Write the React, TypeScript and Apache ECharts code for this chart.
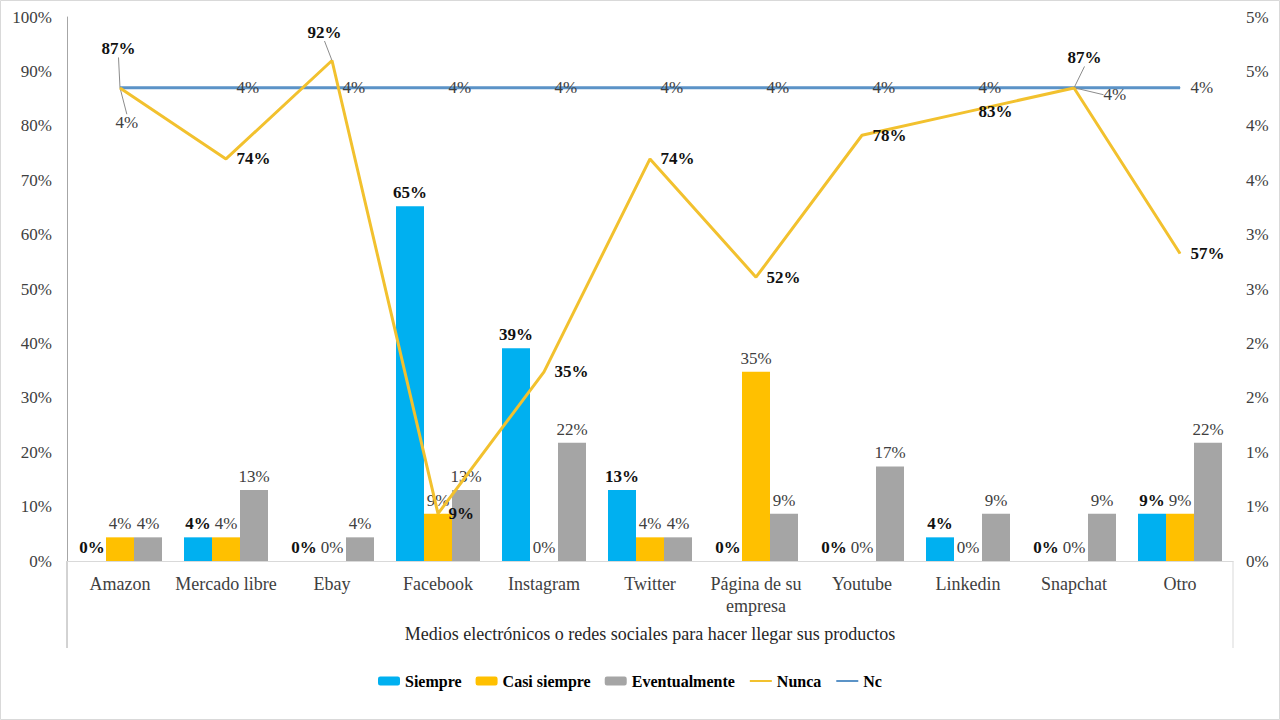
import React, { useEffect, useRef } from "react";
import * as echarts from "echarts";

const categories = [
  "Amazon",
  "Mercado libre",
  "Ebay",
  "Facebook",
  "Instagram",
  "Twitter",
  "Página de su\nempresa",
  "Youtube",
  "Linkedin",
  "Snapchat",
  "Otro",
];
const siempre = [0, 4.35, 0, 65.22, 39.13, 13.04, 0, 0, 4.35, 0, 8.7];
const casiSiempre = [4.35, 4.35, 0, 8.7, 0, 4.35, 34.78, 0, 0, 0, 8.7];
const eventualmente = [4.35, 13.04, 4.35, 13.04, 21.74, 4.35, 8.7, 17.39, 8.7, 8.7, 21.74];
const nunca = [86.96, 73.91, 92.0, 8.7, 34.78, 73.91, 52.17, 78.26, 82.61, 86.96, 56.52];
const nc = [4.35, 4.35, 4.35, 4.35, 4.35, 4.35, 4.35, 4.35, 4.35, 4.35, 4.35];
const axisTitle = "Medios electrónicos o redes sociales para hacer llegar sus productos";

const FONT = "Times New Roman, Liberation Serif, DejaVu Serif, serif";

// label displacements (styling only)
const nuncaShift: Record<number, [number, number]> = {
  0: [-29, -39],
  2: [-35, -28],
  9: [-17, -30],
};
const ncShift: Record<number, [number, number]> = {
  0: [-15, 35],
  9: [19, 7],
};

export default function App() {
  const ref = useRef<HTMLDivElement>(null);
  useEffect(() => {
    if (!ref.current) return;
    const chart = echarts.init(ref.current, undefined, { renderer: "svg" });
    const pct = (p: any) => Math.round(p.value) + "%";
    const barLabel = (bold: boolean) => ({
      show: true,
      position: "top",
      distance: 5,
      fontFamily: FONT,
      fontSize: 17,
      fontWeight: bold ? "bold" : "normal",
      color: bold ? "#111" : "#404040",
      formatter: pct,
    });
    const mkLineData = (vals: number[], shift: Record<number, [number, number]>) =>
      vals.map((v, i) =>
        shift[i]
          ? { value: v, labelLine: { show: true, lineStyle: { color: "#8c8c8c", width: 1 } } }
          : { value: v }
      );
    chart.setOption({
      animation: false,
      textStyle: { fontFamily: FONT },
      grid: { left: 67, right: 47, top: 17, bottom: 159, containLabel: false },
      legend: {
        top: 668,
        left: 373,
        itemWidth: 22,
        itemHeight: 9,
        itemGap: 14,
        textStyle: { fontFamily: FONT, fontSize: 16, fontWeight: "bold", color: "#000" },
        data: [
          { name: "Siempre" },
          { name: "Casi siempre" },
          { name: "Eventualmente" },
          { name: "Nunca", itemStyle: { opacity: 0 } },
          { name: "Nc", itemStyle: { opacity: 0 } },
        ],
      },
      xAxis: {
        type: "category",
        data: categories,
        axisLine: { lineStyle: { color: "#d9d9d9", width: 1 } },
        axisTick: { show: false },
        axisLabel: {
          interval: 0,
          fontFamily: FONT,
          fontSize: 18,
          color: "#404040",
          margin: 12,
          lineHeight: 22,
        },
        name: axisTitle,
        nameLocation: "middle",
        nameGap: 64,
        nameTextStyle: { fontFamily: FONT, fontSize: 18, color: "#262626" },
      },
      yAxis: [
        {
          type: "value",
          min: 0,
          max: 100,
          interval: 10,
          axisLine: { show: true, lineStyle: { color: "#a6a6a6" } },
          axisTick: { show: false },
          splitLine: { show: false },
          axisLabel: {
            formatter: "{value}%",
            fontFamily: FONT,
            fontSize: 17,
            color: "#404040",
            margin: 15,
          },
        },
        {
          type: "value",
          min: 0,
          max: 5,
          interval: 0.5,
          axisLine: { show: false },
          axisTick: { show: false },
          splitLine: { show: false },
          axisLabel: {
            formatter: (v: number) => Math.round(v) + "%",
            fontFamily: FONT,
            fontSize: 17,
            color: "#404040",
            margin: 13,
          },
        },
      ],
      series: [
        {
          name: "Siempre",
          type: "bar",
          data: siempre,
          barWidth: 28,
          barGap: "0%",
          itemStyle: { color: "#00B0F0" },
          label: barLabel(true),
        },
        {
          name: "Casi siempre",
          type: "bar",
          data: casiSiempre,
          barWidth: 28,
          barGap: "0%",
          itemStyle: { color: "#FFC000" },
          label: barLabel(false),
        },
        {
          name: "Eventualmente",
          type: "bar",
          data: eventualmente,
          barWidth: 28,
          barGap: "0%",
          itemStyle: { color: "#A5A5A5" },
          label: barLabel(false),
        },
        {
          name: "Nunca",
          type: "line",
          data: mkLineData(nunca, nuncaShift),
          symbol: "circle",
          symbolSize: 1,
          showSymbol: true,
          z: 5,
          lineStyle: { color: "#F2C12E", width: 3 },
          itemStyle: { color: "#F2C12E" },
          label: {
            show: true,
            position: "right",
            distance: 10,
            fontFamily: FONT,
            fontSize: 17,
            fontWeight: "bold",
            color: "#111",
            formatter: pct,
          },
          labelLayout: (p: any) => {
            const s = nuncaShift[p.dataIndex];
            return s ? { dx: s[0], dy: s[1] } : {};
          },
        },
        {
          name: "Nc",
          type: "line",
          yAxisIndex: 1,
          data: mkLineData(nc, ncShift),
          symbol: "circle",
          symbolSize: 1,
          showSymbol: true,
          z: 4,
          lineStyle: { color: "#5B93C7", width: 3 },
          itemStyle: { color: "#5B93C7" },
          label: {
            show: true,
            position: "right",
            distance: 10,
            fontFamily: FONT,
            fontSize: 17,
            color: "#404040",
            formatter: pct,
          },
          labelLayout: (p: any) => {
            const s = ncShift[p.dataIndex];
            return s ? { dx: s[0], dy: s[1] } : {};
          },
        },
      ],
      graphic: [
        {
          type: "rect",
          shape: { x: 0.5, y: 0.5, width: 1279, height: 719 },
          style: { fill: "none", stroke: "#d9d9d9", lineWidth: 1 },
          silent: true,
        },
        {
          type: "line",
          shape: { x1: 67, y1: 561, x2: 67, y2: 648 },
          style: { stroke: "#a6a6a6", lineWidth: 1 },
          silent: true,
        },
        {
          type: "line",
          shape: { x1: 1233, y1: 561, x2: 1233, y2: 648 },
          style: { stroke: "#d9d9d9", lineWidth: 1 },
          silent: true,
        },
      ],
    });
    return () => chart.dispose();
  }, []);
  return (
    <div
      ref={ref}
      style={{ position: "fixed", left: 0, top: 0, width: 1280, height: 720, background: "#fff" }}
    />
  );
}
